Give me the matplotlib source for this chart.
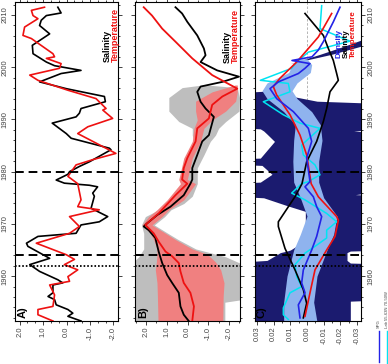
import matplotlib
matplotlib.use('Agg')
import matplotlib.pyplot as plt
from matplotlib.ticker import MultipleLocator, FuncFormatter

plt.rcParams['axes.unicode_minus'] = False
plt.rcParams['font.family'] = ['Liberation Sans', 'DejaVu Sans']

# ---------------- Panel A (annual anomalies) ----------------
a_sal_year = [1951.4, 1952.3, 1952.9, 1953.6, 1954.5, 1955.5, 1956.1, 1956.8, 1958.3, 1958.7, 1959.3,
              1960.9, 1962.2, 1963.4, 1965.7, 1966.3, 1967.6, 1968.2, 1969.8, 1970.4, 1971.4, 1973.0,
              1975.3, 1975.9, 1977.1, 1977.4, 1977.8, 1978.4, 1979.5, 1980.0, 1981.0, 1981.9, 1984.2,
              1984.5, 1986.4, 1987.3, 1989.3, 1990.5, 1991.2, 1992.1, 1993.4, 1994.4, 1995.9, 1997.2,
              1998.8, 1999.4, 2000.3, 2001.0, 2002.6, 2004.2, 2006.4, 2008.0, 2009.0, 2009.9, 2010.4, 2011.5]
a_sal = [-0.62, -0.06, -0.27, -0.06, 0.44, 0.51, 0.79, 0.58, 0.58, 0.16, 0.37,
         1.15, 1.57, 0.72, 1.65, 1.71, 1.22, -0.41, -0.62, -1.40, -1.76, -1.05,
         -1.19, -1.12, -1.33, -0.98, 0.09, 0.44, -0.06, -0.13, -0.55, -0.98, -1.90,
         -1.83, -0.20, 0.01, 0.61, -0.41, -0.55, -0.62, -1.66, -1.62, 0.01, 1.15,
         0.23, -0.62, 0.51, 0.86, 1.43, 1.46, 0.72, 1.15, 1.08, 0.86, 0.23, 0.37]

a_tem_year = [1951.4, 1952.6, 1953.6, 1954.2, 1956.4, 1958.3, 1959.0, 1959.9, 1961.2, 1962.2, 1963.2,
              1964.1, 1966.3, 1968.2, 1969.5, 1971.4, 1972.7, 1973.3, 1974.6, 1977.7, 1979.1, 1981.3,
              1982.3, 1983.5, 1987.3, 1988.6, 1990.2, 1991.8, 1992.1, 1994.0, 1995.6, 1997.5, 1998.5,
              1999.8, 2000.7, 2001.7, 2002.0, 2002.6, 2005.5, 2006.1, 2007.7, 2009.3, 2009.9, 2010.9, 2011.5]
a_tem = [0.58, 1.22, 1.22, 0.58, 0.51, 0.72, -0.13, -0.06, -0.48, 0.09, -0.34,
         0.01, 1.29, -0.13, -0.55, -0.13, -1.40, -0.48, -0.62, -0.48, -0.06, -0.41,
         -1.12, -2.11, -0.48, -0.91, -1.97, -1.55, -1.69, -1.26, -0.06, 1.22, 1.57,
         0.30, 0.23, 0.86, 0.51, 0.58, 1.50, 1.86, 1.79, 1.22, 1.43, 1.50, 0.94]

# ---------------- Panel B (smoothed with uncertainty) ----------------
b_sal_year = [1951.4, 1952.6, 1954.2, 1956.8, 1958.7, 1960.2, 1962.5, 1964.7, 1967.3, 1968.8, 1969.5,
              1970.1, 1971.7, 1973.3, 1975.5, 1977.7, 1978.5, 1980.7, 1983.2, 1985.8, 1987.0, 1990.5,
              1992.1, 1993.4, 1995.3, 1996.3, 1997.2, 1998.2, 1999.4, 2001.0, 2002.3, 2003.6, 2006.1,
              2008.7, 2010.3, 2011.5]
b_sal = [-0.06, 0.18, 0.34, 0.42, 0.74, 0.98, 1.22, 1.39, 1.55, 1.87, 2.11,
         1.95, 1.46, 0.82, 0.18, -0.14, -0.23, -0.23, -0.47, -0.71, -1.03, -1.27,
         -0.87, -0.63, -0.47, -0.63, -1.68, -2.48, -1.43, -0.63, -0.87, -0.79, -0.47,
         0.01, 0.26, 0.58]

b_tem_year = [1951.4, 1954.2, 1956.8, 1958.7, 1960.9, 1962.5, 1963.8, 1964.7, 1966.6, 1968.2, 1969.8,
              1972.0, 1975.5, 1977.7, 1978.5, 1980.7, 1982.6, 1985.8, 1988.3, 1990.2, 1992.8, 1994.4,
              1995.9, 1998.5, 2001.7, 2004.9, 2007.4, 2009.9, 2011.5]
b_tem = [-0.23, -0.31, -0.14, 0.18, 0.34, 0.42, 0.74, 1.06, 1.39, 1.63, 2.03,
         1.39, 0.58, 0.01, 0.26, 0.18, 0.01, -0.39, -0.47, -1.03, -1.19, -1.68,
         -2.40, -1.19, -0.23, 0.58, 1.22, 1.71, 2.11]

b_sal_band_year = [1951.2, 1955.0, 1955.6, 1962.0, 1963.7, 1965.2, 1967.0, 1968.2, 1969.8, 1971.4, 1972.7,
                   1973.9, 1975.3, 1977.7, 1980.7, 1983.2, 1985.8, 1987.0, 1988.3, 1989.6, 1991.6,
                   1994.2, 1996.1, 1996.6]
b_sal_band_hi = [2.8, 2.8, 2.8, 2.8, 2.35, 2.11, 2.11, 2.11, 2.22, 2.03, 1.39,
                 0.90, 0.74, 0.26, 0.05, -0.23, -0.31, -0.23, -0.23, 0.42, 0.90,
                 0.90, 0.26, -0.71]
b_sal_band_lo = [-1.80, -1.80, -2.8, -2.8, -1.84, -0.40, 0.45, 0.95, 1.60, 1.10, 0.80,
                 0.18, -0.23, -0.47, -0.47, -0.79, -1.10, -1.35, -1.50, -1.84, -2.48,
                 -2.50, -2.40, -0.95]

b_tem_band_year = [1951.2, 1956.2, 1958.7, 1961.2, 1962.7, 1964.2, 1965.2, 1967.0, 1968.2, 1969.8, 1971.4,
                   1972.7, 1974.6, 1977.7, 1978.5, 1982.6, 1985.8, 1988.3, 1989.9, 1991.6, 1993.5,
                   1995.3, 1996.6]
b_tem_band_hi = [1.42, 1.45, 1.47, 1.55, 1.50, 1.47, 1.47, 1.63, 1.79, 2.19, 1.87,
                 1.47, 0.98, 0.34, 0.42, 0.18, -0.23, -0.31, -0.47, -0.39, -0.39,
                 -1.19, -2.30]
b_tem_band_lo = [-1.70, -1.72, -1.76, -1.60, -1.35, -0.95, -0.23, 0.58, 1.06, 1.71, 1.22,
                 0.90, 0.18, -0.39, 0.01, -0.23, -0.63, -0.79, -1.19, -1.84, -2.32,
                 -2.40, -2.40]

# ---------------- Panel C (density / salinity / temperature contributions) ----------------
c_sal_year = [1952.0, 1954.8, 1957.4, 1961.2, 1965.3, 1969.5, 1970.4, 1975.2, 1977.7, 1981.9, 1985.8,
              1989.6, 1992.1, 1995.3, 1997.5, 1998.8, 2001.3, 2003.6, 2006.1, 2010.3]
c_sal = [0.0022, 0.0002, 0.0022, 0.0072, 0.0132, 0.0172, 0.0172, 0.0072, 0.0030, 0.0002, -0.0058,
         -0.0098, -0.0118, -0.0138, -0.0188, -0.0178, -0.0158, -0.0128, -0.0098, 0.0012]

c_tem_year = [1952.3, 1956.8, 1961.2, 1965.0, 1967.6, 1970.7, 1971.4, 1975.2, 1977.7, 1983.2, 1987.0,
              1990.9, 1994.7, 1996.3, 1997.9, 2001.0, 2005.8, 2010.3]
c_tem = [0.0012, -0.0018, -0.0048, -0.0118, -0.0168, -0.0188, -0.0178, -0.0068, -0.0025, 0.0002, 0.0042,
         0.0102, 0.0182, 0.0202, 0.0162, 0.0062, -0.0068, -0.0148]

c_den_year = [1952.0, 1954.5, 1956.8, 1958.7, 1961.2, 1965.0, 1967.6, 1971.4, 1973.3, 1975.2, 1977.1,
              1978.1, 1982.6, 1985.8, 1988.3, 1991.5, 1994.0, 1995.9, 1997.2, 1998.8, 1999.8,
              2000.7, 2001.3, 2002.0, 2003.3, 2004.9, 2008.7, 2011.5]
c_den = [0.0042, 0.0052, 0.0012, 0.0032, 0.0022, -0.0028, -0.0058, -0.0088, -0.0058, -0.0038, 0.0012,
         -0.0018, 0.0002, -0.0028, -0.0008, 0.0082, 0.0182, 0.0222, 0.0172, 0.0052, 0.0012,
         -0.0018, 0.0090, -0.0030, -0.0068, -0.0098, -0.0158, -0.0198]

c_lab_year = [1951.7, 1952.6, 1953.9, 1956.8, 1958.0, 1959.9, 1962.2, 1964.4, 1965.7, 1967.3, 1968.8,
              1970.4, 1972.0, 1973.0, 1974.6, 1975.9, 1977.7, 1978.1, 1979.4, 1981.3, 1983.2,
              1985.1, 1988.3, 1989.3, 1990.9, 1993.4, 1995.3, 1996.9, 1997.5, 1999.8, 2001.0,
              2002.9, 2005.0, 2007.4, 2011.8]
c_lab = [0.0112, 0.0142, 0.0142, 0.0102, 0.0032, 0.0062, 0.0072, 0.0012, -0.0048, -0.0118, -0.0118,
         -0.0178, -0.0118, -0.0068, 0.0012, 0.0092, 0.0032, -0.0008, -0.0078, -0.0048, 0.0022,
         0.0032, -0.0078, 0.0042, 0.0142, 0.0262, 0.0102, 0.0112, 0.0280, 0.0092, 0.0062,
         -0.0008, -0.0258, -0.0078, -0.0088]

c_band_year = [1951.2, 1955.0, 1960.0, 1965.0, 1968.0, 1971.5, 1975.0, 1978.0, 1982.0, 1986.0, 1989.0,
               1991.5, 1994.0, 1995.5, 1997.0, 1999.0, 2000.5, 2001.6]
c_band_hi = [0.0140, 0.0140, 0.0120, 0.0080, 0.0040, 0.0000, 0.0040, 0.0080, 0.0085, 0.0080, 0.0070,
             0.0140, 0.0240, 0.0270, 0.0240, 0.0110, 0.0088, 0.0050]
c_band_lo = [-0.0060, -0.0040, -0.0060, -0.0120, -0.0160, -0.0180, -0.0100, -0.0070, -0.0070, -0.0090, -0.0080,
             -0.0028, 0.0060, 0.0090, 0.0060, -0.0020, -0.0028, 0.0000]

# significance region (navy) bounds
c_sig_year = [1951.2, 1955.2, 1955.5, 1962.3, 1962.5, 1963.0, 1964.5, 1964.8, 1965.0, 1966.0, 1967.6,
              1972.4, 1973.5, 1975.0, 1975.4, 1975.6, 1976.5, 1977.7, 1978.0, 1979.5, 1981.2, 1981.5,
              1982.4, 1982.6, 1985.8, 1987.2, 1987.8, 1988.2, 1988.6, 1993.0, 1993.5, 1995.0, 1995.4]
c_sig_left = [0.05, 0.05, 0.05, 0.05, 0.05, 0.024, 0.016, 0.012, 0.010, 0.005, 0.001,
              0.001, 0.012, 0.026, 0.05, 0.05, 0.05, 0.05, 0.028, 0.021, 0.027, 0.05,
              0.05, 0.028, 0.0195, 0.024, 0.026, 0.028, 0.05, 0.05, 0.05, 0.05, 0.026]
c_sig_right = [-0.026, -0.026, -0.05, -0.05, -0.026, -0.024, -0.024, -0.026, -0.05, -0.05, -0.05,
               -0.05, -0.05, -0.05, -0.05, -0.029, -0.05, -0.05, -0.05, -0.05, -0.05, -0.05,
               -0.05, -0.05, -0.05, -0.05, -0.028, -0.05, -0.05, -0.05, -0.006, 0.018, 0.026]

c_wedge_year = [2000.7, 2002.5, 2004.0, 2005.5]
c_wedge_left = [0.0100, -0.0080, -0.0220, -0.0350]
c_wedge_right = [0.0100, -0.0150, -0.0320, -0.0400]

event_dashed = [1964, 1980]
event_dotted = [1962]
year_ticks = [1960, 1970, 1980, 1990, 2000, 2010]

# ---------------- figure ----------------
W, H = 388, 364
fig = plt.figure(figsize=(W / 100, H / 100), dpi=100)


def box(l, r, t, b):
    return [l / W, (H - b) / H, (r - l) / W, (b - t) / H]


axA = fig.add_axes(box(15, 118, 2, 321))
axB = fig.add_axes(box(135, 240, 2, 321))
axC = fig.add_axes(box(255, 361, 2, 321))

RED = '#ee1111'
BLUE = '#2323e6'
CYAN = '#00e4f2'
NAVY = '#1b1b6f'
LBLUE = '#8fb3ee'


def setup(ax, xlim, major, minor, fmt, ylab):
    ax.set_xlim(*xlim)
    ax.set_ylim(1951.4, 2012.5)
    ax.xaxis.set_major_locator(MultipleLocator(major))
    ax.xaxis.set_minor_locator(MultipleLocator(minor))
    ax.xaxis.set_major_formatter(FuncFormatter(fmt))
    ax.set_yticks(year_ticks)
    ax.set_yticklabels([str(y) for y in year_ticks])
    ax.yaxis.set_minor_locator(MultipleLocator(2))
    ax.tick_params(axis='both', which='both', direction='out', top=True, bottom=True,
                   left=True, right=True, width=0.6, colors='#222222',
                   labelsize=5.5, labelcolor='#444444')
    ax.tick_params(which='major', length=3.2)
    ax.tick_params(which='minor', length=1.6)
    ax.tick_params(axis='x', labelrotation=90, pad=1)
    ax.tick_params(axis='y', labelrotation=90, pad=1.5,
                   labelleft=(ylab == 'left'), labelright=(ylab == 'right'))
    for t in ax.yaxis.get_major_ticks():
        t.label1.set_verticalalignment('center')
        t.label2.set_verticalalignment('center')
    for s in ax.spines.values():
        s.set_linewidth(0.8)


def f1(v, p):
    return '%.1f' % (0.0 if abs(v) < 1e-9 else v)


def f2(v, p):
    return '%.2f' % (0.0 if abs(v) < 1e-9 else v)


def events(ax):
    for y in event_dashed:
        ax.axhline(y, color='black', lw=1.4, dashes=(4.5, 2.5), zorder=6)
    for y in event_dotted:
        ax.axhline(y, color='black', lw=1.3, linestyle=(0, (0.9, 1.1)), zorder=6)


# Panel A
setup(axA, (2.2, -2.2), 1.0, 1 / 3, f1, 'left')
axA.plot(a_sal, a_sal_year, color='black', lw=1.2, zorder=3)
axA.plot(a_tem, a_tem_year, color=RED, lw=1.2, zorder=3)
events(axA)

# Panel B
setup(axB, (2.53, -2.53), 1.0, 0.5, f1, None)
axB.fill_betweenx(b_sal_band_year, b_sal_band_hi, b_sal_band_lo, color='#bebebe', lw=0, zorder=1)
axB.fill_betweenx(b_tem_band_year, b_tem_band_hi, b_tem_band_lo, color='#f08080', lw=0, zorder=2)
axB.plot(b_sal, b_sal_year, color='black', lw=1.3, zorder=3)
axB.plot(b_tem, b_tem_year, color=RED, lw=1.3, zorder=3)
events(axB)

# Panel C
setup(axC, (0.0312, -0.0324), 0.01, 0.005, f2, 'right')
axC.axvline(0, color='#aaaaaa', lw=0.6, dashes=(3, 2), zorder=0.5)
axC.fill_betweenx(c_sig_year, c_sig_left, c_sig_right, color=NAVY, lw=0, zorder=1)
axC.fill_betweenx(c_wedge_year, c_wedge_left, c_wedge_right, color=NAVY, lw=0, zorder=1)
axC.fill_betweenx(c_band_year, c_band_hi, c_band_lo, color=LBLUE, lw=0, zorder=2)
axC.plot(c_lab, c_lab_year, color=CYAN, lw=1.1, zorder=3)
axC.plot(c_sal, c_sal_year, color='black', lw=1.2, zorder=3)
axC.plot(c_tem, c_tem_year, color=RED, lw=1.2, zorder=3)
axC.plot(c_den, c_den_year, color=BLUE, lw=1.2, zorder=3)
events(axC)

# panel letters and series labels
for ax, letter, x in [(axA, 'A)', 0.078), (axB, 'B)', 0.076), (axC, 'C)', 0.066)]:
    ax.text(x, 0.027, letter, transform=ax.transAxes, rotation=90, fontsize=8, fontweight='bold',
            ha='center', va='center', zorder=7)

for ax, xs, names, cols, y0, fs in [
        (axA, [0.893, 0.970], ['Salinity', 'Temperature'], ['black', RED], 0.812, 6.5),
        (axB, [0.876, 0.952], ['Salinity', 'Temperature'], ['black', RED], 0.810, 6.5),
        (axC, [0.790, 0.862, 0.933], ['Density', 'Salinity', 'Temperature'], [BLUE, 'black', RED], 0.825, 5.8)]:
    for x, n, c in zip(xs, names, cols):
        ax.text(x, y0, n, transform=ax.transAxes, rotation=90, fontsize=fs, fontweight='bold',
                color=c, ha='center', va='bottom', zorder=7)

# small legend bottom-right
fig.add_artist(plt.Line2D([379 / W, 379 / W], [(H - 362) / H, (H - 331) / H], color=BLUE, lw=1.0))
fig.add_artist(plt.Line2D([386.5 / W, 386.5 / W], [0.0, (H - 331) / H], color=CYAN, lw=1.0))
fig.text(379 / W, (H - 328) / H, 'SPG', rotation=90, fontsize=3, color='#444444', ha='center', va='bottom')
fig.text(386.5 / W, (H - 328) / H, 'Lab 55-63N 70-50W', rotation=90, fontsize=3, color='#444444',
         ha='center', va='bottom')

fig.savefig('out.png', dpi=100)
